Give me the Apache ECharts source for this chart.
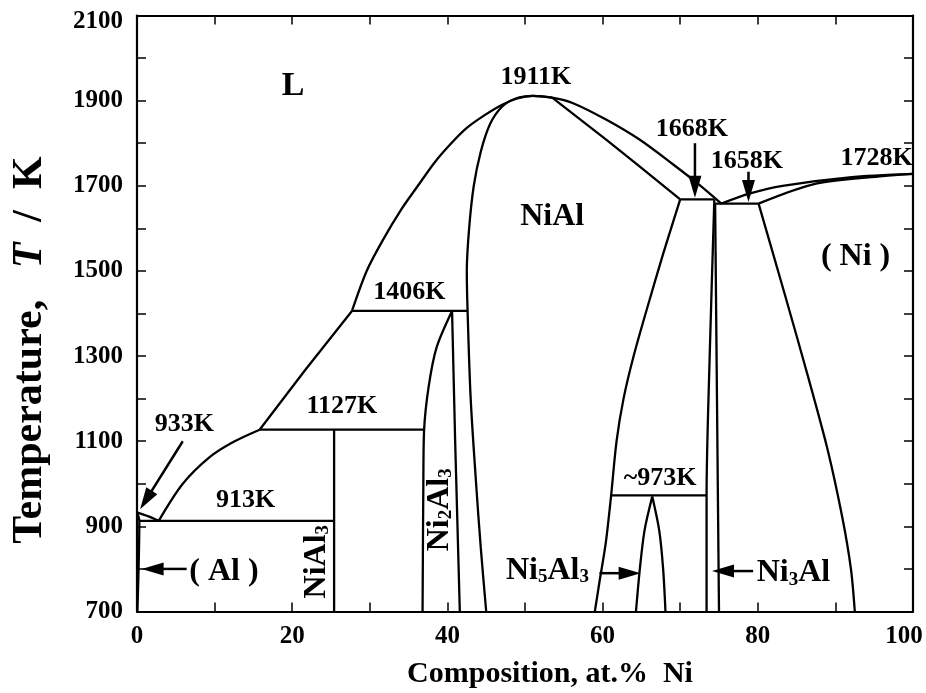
<!DOCTYPE html>
<html>
<head>
<meta charset="utf-8">
<script src="https://cdn.jsdelivr.net/npm/echarts@6/dist/echarts.min.js"></script>
<style>
html, body { margin: 0; padding: 0; background: #fff; }
#chart { width: 926px; height: 693px; }
</style>
</head>
<body>
<div id="chart"></div>
<script>
// ---- Axis ranges (composition in at.% Ni, temperature in K) ----
const xRange = [0, 100];
const tRange = [700, 2100];
const xTickStep = 10, xLabelStep = 20;
const tTickStep = 100, tLabelStep = 200;

// ---- Phase boundaries, points as [at.% Ni, T / K] ----
const alSolidusSolvus   = [[0, 933], [0.3, 913], [0.05, 700]];
const liquidusAlEut     = [[0, 933], [1.4, 924], [2.8, 913]];
const liquidusToNiAl3   = [[2.8, 913], [5.9, 1000], [9.4, 1063], [12.4, 1098], [15.8, 1127]];
const liquidusToNi2Al3  = [[15.8, 1127], [21.7, 1268], [27.7, 1406]];
const liquidusMain      = [[27.7, 1406], [29.6, 1500], [31.7, 1573], [34.0, 1643], [36.2, 1700], [38.4, 1756],
                           [40.5, 1800], [42.5, 1836], [44.8, 1866], [47.0, 1890], [49.0, 1905], [51.0, 1911],
                           [53.5, 1907], [56.2, 1894], [60.5, 1855], [64.8, 1808], [69.1, 1750], [72.2, 1706],
                           [75.3, 1658]];
const niAlAlSide        = [[45.0, 700], [44.3, 850], [43.7, 1000], [43.0, 1200], [42.6, 1406], [42.5, 1500],
                           [42.8, 1600], [43.4, 1700], [44.3, 1780], [45.5, 1845], [47.0, 1885], [48.8, 1905],
                           [51.0, 1911], [53.5, 1907]];
const niAlSolidusNi     = [[53.5, 1907], [60.5, 1808], [64.8, 1745], [70.0, 1668]];
const niAlSolvusNi      = [[70.0, 1668], [67.8, 1540], [65.7, 1410], [64.0, 1300], [62.7, 1200], [61.8, 1100],
                           [61.1, 973], [60.4, 860], [59.6, 770], [59.0, 700]];
const niAl3Line         = [[25.4, 700], [25.4, 1127]];
const ni2Al3Left        = [[36.8, 700], [36.9, 1000], [37.0, 1127], [37.6, 1230], [38.6, 1320], [40.6, 1406]];
const ni2Al3Right       = [[40.6, 1406], [41.0, 1100], [41.6, 700]];
const ni5Al3Left        = [[64.3, 700], [64.8, 800], [65.4, 890], [66.4, 970]];
const ni5Al3Right       = [[66.4, 970], [67.3, 890], [67.8, 800], [68.1, 700]];
const ni3AlLeft         = [[74.4, 1668], [73.8, 1300], [73.4, 973], [73.4, 700]];
const ni3AlRight        = [[74.5, 1658], [75.0, 700]];
const niLiquidus        = [[75.3, 1658], [79.0, 1682], [83.2, 1700], [91.8, 1720], [100, 1728]];
const niSolidus         = [[80.1, 1658], [87.5, 1705], [96.1, 1723], [100, 1728]];
const niSolvus          = [[80.1, 1658], [83.4, 1450], [86.5, 1250], [89.0, 1080], [90.9, 920], [92.0, 800], [92.5, 700]];

// ---- Invariant isotherms ----
const iso913  = [[0.3, 913], [25.4, 913]];
const iso1127 = [[15.8, 1127], [37.0, 1127]];
const iso1406 = [[27.7, 1406], [42.6, 1406]];
const iso973  = [[61.1, 973], [73.4, 973]];
const iso1668 = [[70.0, 1668], [74.4, 1668]];
const iso1658 = [[74.5, 1658], [80.1, 1658]];

const smoothCurves = [alSolidusSolvus, liquidusAlEut, liquidusToNiAl3, liquidusMain, niAlAlSide,
                      niAlSolvusNi, ni2Al3Left, ni5Al3Left, ni5Al3Right, ni3AlLeft,
                      niLiquidus, niSolidus, niSolvus];
const straightLines = [liquidusToNi2Al3, niAlSolidusNi, niAl3Line, ni2Al3Right, ni3AlRight,
                       iso913, iso1127, iso1406, iso973, iso1668, iso1658];

// ---- Text annotations: text, x, T, kind, rotation ----
const labelTexts = ['L', '1911K', '1668K', '1658K', '1728K', '{n|NiAl}', '{n|( Ni )}', '1406K', '1127K',
                    '933K', '913K', '{n|( Al )}', '{n|NiAl}{s|3}', '{n|Ni}{s|2}{n|Al}{s|3}', '~973K',
                    '{n|Ni}{s|5}{n|Al}{s|3}', '{n|Ni}{s|3}{n|Al}'];
const labelX     = [20.1, 51.4, 71.5, 78.6, 95.3, 53.5, 92.6, 35.1, 26.4, 6.1, 14.0, 11.2, 23.1, 39.0, 67.4, 52.9, 84.6];
const labelT     = [1935, 1955, 1832, 1758, 1764, 1628, 1534, 1449, 1182, 1139, 962, 794, 817, 939, 1013, 795, 790];
const labelKind  = ['big', 'temp', 'temp', 'temp', 'temp', 'phase', 'phase', 'temp', 'temp', 'temp', 'temp',
                    'phase', 'phase', 'phase', 'temp', 'phase', 'phase'];
const labelRot   = [0, 0, 0, 0, 0, 0, 0, 0, 0, 0, 0, 0, 90, 90, 0, 0, 0];

// ---- Arrows: [x from, T from, x to, T to] ----
const arrows = [
  [5.9, 1100, 0.4, 940],    // 933K
  [71.9, 1800, 71.9, 1672], // 1668K
  [78.8, 1733, 78.8, 1662], // 1658K
  [6.4, 800, 0.6, 800],     // (Al)
  [59.6, 790, 64.9, 790],   // Ni5Al3
  [79.4, 795, 74.1, 795]    // Ni3Al
];

const serif = '"Liberation Serif", "Times New Roman", serif';
const ink = '#000';
const penWidth = 2.3;

const lineSeries = [];
smoothCurves.forEach(d => lineSeries.push({ type: 'line', data: d, smooth: 0.3, showSymbol: false,
  lineStyle: { color: ink, width: penWidth }, silent: true, z: 3 }));
straightLines.forEach(d => lineSeries.push({ type: 'line', data: d, smooth: false, showSymbol: false,
  lineStyle: { color: ink, width: penWidth }, silent: true, z: 3 }));

const fontSizes = { big: 34, temp: 26, phase: 32 };

const labelData = labelTexts.map((t, i) => [labelX[i], labelT[i], i]);

const chart = echarts.init(document.getElementById('chart'), null, { renderer: 'canvas' });

const tickCommon = { show: true, inside: true, length: 9, lineStyle: { color: ink, width: 1.5 } };
const lineCommon = { show: true, onZero: false, lineStyle: { color: ink, width: 2.2 } };

chart.setOption({
  animation: false,
  backgroundColor: '#fff',
  grid: { left: 137, top: 15.5, width: 776, height: 596, containLabel: false },
  xAxis: [
    { type: 'value', min: xRange[0], max: xRange[1], interval: xTickStep, position: 'bottom',
      axisLine: lineCommon, axisTick: tickCommon, splitLine: { show: false },
      axisLabel: { show: true, interval: 0, margin: 13, color: ink, fontFamily: serif, fontWeight: 'bold', fontSize: 25,
        formatter: v => (v % xLabelStep === 0 ? (v === xRange[1] ? '{r|' + v + '}' : String(v)) : ''),
        rich: { r: { fontFamily: serif, fontWeight: 'bold', fontSize: 25, color: ink, padding: [0, 18, 0, 0] } } } },
    { type: 'value', min: xRange[0], max: xRange[1], interval: xTickStep, position: 'top',
      axisLine: lineCommon, axisTick: tickCommon, splitLine: { show: false }, axisLabel: { show: false } }
  ],
  yAxis: [
    { type: 'value', min: tRange[0], max: tRange[1], interval: tTickStep, position: 'left',
      axisLine: lineCommon, axisTick: tickCommon, splitLine: { show: false },
      axisLabel: { show: true, interval: 0, margin: 14, color: ink, fontFamily: serif, fontWeight: 'bold', fontSize: 25,
        formatter: v => ((v - tRange[0]) % tLabelStep === 0 ? (v === tRange[1] ? '{t|' + v + '}' : String(v)) : ''),
        rich: { t: { fontFamily: serif, fontWeight: 'bold', fontSize: 25, color: ink, padding: [12, 0, 0, 0] } } } },
    { type: 'value', min: tRange[0], max: tRange[1], interval: tTickStep, position: 'right',
      axisLine: lineCommon, axisTick: tickCommon, splitLine: { show: false }, axisLabel: { show: false } }
  ],
  series: lineSeries.concat([
    {
      type: 'custom', silent: true, z: 5,
      data: arrows,
      encode: { x: [0, 2], y: [1, 3] },
      renderItem: (params, api) => {
        const p1 = api.coord([api.value(0), api.value(1)]);
        const p2 = api.coord([api.value(2), api.value(3)]);
        const dx = p2[0] - p1[0], dy = p2[1] - p1[1];
        const len = Math.hypot(dx, dy);
        const ux = dx / len, uy = dy / len;
        const hl = 22, hw = 6.5;
        const bx = p2[0] - ux * hl, by = p2[1] - uy * hl;
        return { type: 'group', children: [
          { type: 'line', shape: { x1: p1[0], y1: p1[1], x2: bx + ux * 2, y2: by + uy * 2 },
            style: { stroke: ink, lineWidth: 2.5 } },
          { type: 'polygon', shape: { points: [[p2[0], p2[1]], [bx - uy * hw, by + ux * hw], [bx + uy * hw, by - ux * hw]] },
            style: { fill: ink } }
        ] };
      }
    },
    {
      type: 'custom', silent: true, z: 6,
      data: labelData,
      encode: { x: 0, y: 1 },
      renderItem: (params, api) => {
        const i = params.dataIndex;
        const p = api.coord([api.value(0), api.value(1)]);
        const fs = fontSizes[labelKind[i]];
        return {
          type: 'text', x: p[0], y: p[1], rotation: labelRot[i] * Math.PI / 180,
          style: {
            text: labelTexts[i], fill: ink,
            font: 'bold ' + fs + 'px ' + serif,
            align: 'center', verticalAlign: 'middle',
            rich: {
              n: { fontFamily: serif, fontWeight: 'bold', fontSize: fs, lineHeight: fs, fill: ink, verticalAlign: 'bottom' },
              s: { fontFamily: serif, fontWeight: 'bold', fontSize: Math.round(fs * 0.58), lineHeight: Math.round(fs * 0.58),
                   fill: ink, verticalAlign: 'bottom' }
            }
          }
        };
      }
    }
  ]),
  graphic: [
    { type: 'text', x: 30, y: 350, rotation: Math.PI / 2, silent: true,
      style: { text: '{a|Temperature,}{a|   }{i|T}{a|  /  K}', fill: ink, align: 'center', verticalAlign: 'middle',
        rich: {
          a: { fontFamily: serif, fontWeight: 'bold', fontSize: 42, fill: ink },
          i: { fontFamily: serif, fontWeight: 'bold', fontStyle: 'italic', fontSize: 42, fill: ink }
        } } },
    { type: 'text', x: 550, y: 674, silent: true,
      style: { text: 'Composition, at.%  Ni', fill: ink, align: 'center', verticalAlign: 'middle',
        font: 'bold 30px ' + serif } }
  ]
});
</script>
</body>
</html>
